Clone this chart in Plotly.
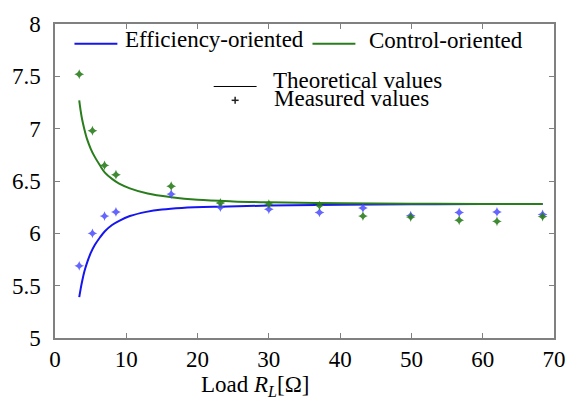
import plotly.graph_objects as go

# Measured data
load_meas = [3.4, 5.25, 6.95, 8.55, 16.3, 23.2, 30.0, 37.1, 43.2, 49.9, 56.7, 62.0, 68.4]
eff_meas = [5.69, 6.0, 6.165, 6.205, 6.375, 6.25, 6.23, 6.20, 6.243, 6.17, 6.20, 6.205, 6.18]
ctl_meas = [7.52, 6.98, 6.65, 6.56, 6.45, 6.29, 6.28, 6.265, 6.165, 6.155, 6.125, 6.115, 6.16]

# Theoretical curves
load_eff_th = [3.4, 3.6, 3.8, 4.1, 4.5, 5.0, 5.6, 6.3, 7.0, 8.0, 9.0, 10.5, 12.8, 15, 17.8, 23, 30, 40, 50, 60, 68.4]
eff_th = [5.39, 5.47, 5.54, 5.63, 5.72, 5.81, 5.89, 5.96, 6.02, 6.08, 6.12, 6.165, 6.205, 6.228, 6.243, 6.255, 6.265, 6.272, 6.278, 6.28, 6.28]
load_ctl_th = [3.4, 3.6, 3.8, 4.1, 4.5, 5.0, 5.5, 6.3, 7.0, 8.0, 9.0, 10.5, 13, 16.3, 20, 25, 30, 40, 50, 60, 68.4]
ctl_th = [7.27, 7.17, 7.09, 7.0, 6.90, 6.81, 6.74, 6.65, 6.58, 6.52, 6.475, 6.43, 6.38, 6.345, 6.32, 6.305, 6.297, 6.288, 6.283, 6.28, 6.28]

x_ticks = [0, 10, 20, 30, 40, 50, 60, 70]
x_tick_text = ["0", "10", "20", "30", "40", "50", "60", "70"]
y_ticks = [5, 5.5, 6, 6.5, 7, 7.5, 8]
y_tick_text = ["5", "5.5", "6", "6.5", "7", "7.5", "8"]

BLUE = "#1515f0"
GREEN = "#2a7d1c"
BLUE_PT = "#4a4aff"
FONT = "Liberation Serif"

fig = go.Figure()
fig.add_trace(go.Scatter(x=load_eff_th, y=eff_th, mode="lines", line=dict(color=BLUE, width=2, shape="spline"), showlegend=False))
fig.add_trace(go.Scatter(x=load_ctl_th, y=ctl_th, mode="lines", line=dict(color=GREEN, width=2, shape="spline"), showlegend=False))
fig.add_trace(go.Scatter(x=load_meas, y=eff_meas, mode="markers",
                         marker=dict(symbol="star-diamond", size=7, color=BLUE_PT, opacity=0.85, line=dict(width=0)), showlegend=False))
fig.add_trace(go.Scatter(x=load_meas, y=ctl_meas, mode="markers",
                         marker=dict(symbol="star-diamond", size=7, color=GREEN, opacity=0.9, line=dict(width=0)), showlegend=False))

axis_common = dict(showgrid=False, zeroline=False, showline=True, linecolor="#808080", linewidth=1.5,
                   mirror="ticks", ticks="inside", ticklen=5, tickcolor="#808080",
                   tickfont=dict(family=FONT, size=23, color="black"))
fig.update_xaxes(range=[0, 70], tickvals=x_ticks, ticktext=x_tick_text, **axis_common)
fig.update_yaxes(range=[5, 8], tickvals=y_ticks, ticktext=y_tick_text, ticklabelstandoff=8, **axis_common)

shapes = []
def hline(x0, x1, y, color):
    shapes.append(dict(type="line", xref="paper", yref="paper", x0=x0, x1=x1, y0=y, y1=y, line=dict(color=color, width=2)))

hline(0.039, 0.125, 0.937, BLUE)
hline(0.516, 0.602, 0.937, GREEN)
shapes.append(dict(type="line", xref="paper", yref="paper", x0=0.318, x1=0.404, y0=0.801, y1=0.801, line=dict(color="black", width=1)))
# legend marker (cross)
mx, my = 0.361, 0.757
shapes.append(dict(type="line", xref="paper", yref="paper", x0=mx - 0.007, x1=mx + 0.007, y0=my, y1=my, line=dict(color="#222", width=1.5)))
shapes.append(dict(type="line", xref="paper", yref="paper", x0=mx, x1=mx, y0=my - 0.011, y1=my + 0.011, line=dict(color="#222", width=1.5)))

annotations = [
    dict(text="Efficiency-oriented", x=0.137, y=0.950, xanchor="left", yanchor="middle"),
    dict(text="Control-oriented", x=0.625, y=0.946, xanchor="left", yanchor="middle"),
    dict(text="Theoretical values", x=0.433, y=0.820, xanchor="left", yanchor="middle"),
    dict(text="Measured values", x=0.435, y=0.764, xanchor="left", yanchor="middle"),
    dict(text="Load <i>R</i><sub><i>L</i></sub>[Ω]", x=0.40, y=-0.152, xanchor="center", yanchor="middle"),
]
for a in annotations:
    a.update(xref="paper", yref="paper", showarrow=False, font=dict(family=FONT, size=23, color="black"))

fig.update_layout(width=578, height=404, margin=dict(l=50, r=18, t=21, b=66),
                  font=dict(family=FONT, size=23, color="black"),
                  paper_bgcolor="white", plot_bgcolor="white", showlegend=False,
                  shapes=shapes, annotations=annotations)

fig.write_html("out.html")
